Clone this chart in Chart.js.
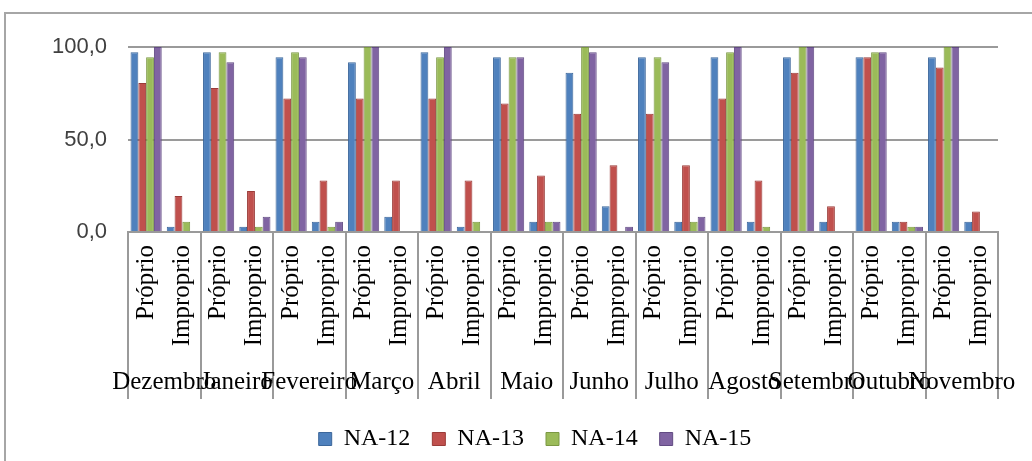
<!DOCTYPE html>
<html>
<head>
<meta charset="utf-8">
<script src="https://cdn.jsdelivr.net/npm/chart.js@4.4.0/dist/chart.umd.min.js"></script>
<style>
  html, body { margin: 0; padding: 0; background: #fff; }
  #wrap { position: relative; width: 1032px; height: 461px; overflow: hidden; }
  #frame { position: absolute; left: 4px; top: 12px; width: 1100px; height: 500px;
           border-top: 2px solid #a6a6a6; border-left: 2px solid #a6a6a6; }
  canvas { position: absolute; left: 0; top: 0; }
</style>
</head>
<body>
<div id="wrap">
  <div id="frame"></div>
  <canvas id="grafico" width="1032" height="461"></canvas>
</div>
<script>
'use strict'

var meses = ['Dezembro', 'Janeiro', 'Fevereiro', 'Março', 'Abril', 'Maio',
             'Junho', 'Julho', 'Agosto', 'Setembro', 'Outubro', 'Novembro'];
var condicoes = ['Próprio', 'Improprio'];

// pares Próprio / Improprio, mes a mes
var na12 = [97.2, 2.8, 97.2, 2.8, 94.4, 5.6, 91.7, 8.3, 97.2, 2.8, 94.4, 5.6,
            86.1, 13.9, 94.4, 5.6, 94.4, 5.6, 94.4, 5.6, 94.4, 5.6, 94.4, 5.6];
var na13 = [80.6, 19.4, 77.8, 22.2, 72.2, 27.8, 72.2, 27.8, 72.2, 27.8, 69.4, 30.6,
            63.9, 36.1, 63.9, 36.1, 72.2, 27.8, 86.1, 13.9, 94.4, 5.6, 88.9, 11.1];
var na14 = [94.4, 5.6, 97.2, 2.8, 97.2, 2.8, 100, 0, 94.4, 5.6, 94.4, 5.6,
            100, 0, 94.4, 5.6, 97.2, 2.8, 100, 0, 97.2, 2.8, 100, 0];
var na15 = [100, 0, 91.7, 8.3, 94.4, 5.6, 100, 0, 100, 0, 94.4, 5.6,
            97.2, 2.8, 91.7, 8.3, 100, 0, 100, 0, 97.2, 2.8, 100, 0];

var series = ['NA-12', 'NA-13', 'NA-14', 'NA-15'];
var rotulosY = ['0,0', '50,0', '100,0'];

var cores = ['#4f81bd', '#c0504d', '#9bbb59', '#8064a2'];
var bordas = ['#3c679b', '#9a3b38', '#7b9843', '#624b83'];

var rotulos = [];
meses.forEach(function () {
    condicoes.forEach(function (c) { rotulos.push(c); });
});

var valores = [na12, na13, na14, na15];

var serif = "'Liberation Serif', 'Times New Roman', serif";
var sans = "'Liberation Sans', Arial, sans-serif";

new Chart(document.getElementById('grafico').getContext('2d'), {
    type: 'bar',
    data: {
        labels: rotulos,
        datasets: series.map(function (nome, i) {
            return {
                label: nome,
                data: valores[i],
                backgroundColor: cores[i],
                borderColor: bordas[i],
                borderWidth: 1,
                categoryPercentage: 0.86,
                barPercentage: 1.0
            };
        })
    },
    options: {
        responsive: false,
        animation: false,
        devicePixelRatio: 1,
        layout: { padding: { left: 72, right: 34, top: 47, bottom: 0 } },
        plugins: {
            tooltip: { enabled: false },
            legend: {
                position: 'bottom',
                maxHeight: 60,
                labels: {
                    font: { family: serif, size: 24 },
                    color: '#000',
                    boxWidth: 13,
                    boxHeight: 13,
                    padding: 22
                }
            }
        },
        scales: {
            x: {
                type: 'category',
                position: 'bottom',
                afterFit: function (s) { s.height = 120; },
                border: { display: true, color: '#9a9a9a', width: 2 },
                grid: {
                    offset: true,
                    drawOnChartArea: false,
                    drawTicks: true,
                    tickLength: 167,
                    lineWidth: 2,
                    color: function (ctx) {
                        return (ctx.index === undefined || ctx.index % 2 === 0) ? '#9a9a9a' : 'rgba(0,0,0,0)';
                    }
                },
                ticks: {
                    autoSkip: false,
                    minRotation: 90,
                    maxRotation: 90,
                    padding: -154,
                    color: '#000',
                    font: { family: serif, size: 25 }
                }
            },
            x2: {
                type: 'category',
                position: 'bottom',
                labels: meses,
                offset: true,
                afterFit: function (s) { s.height = 53; },
                border: { display: false },
                grid: { display: false },
                ticks: {
                    autoSkip: false,
                    maxRotation: 0,
                    minRotation: 0,
                    padding: 7,
                    color: '#000',
                    font: { family: serif, size: 25 }
                }
            },
            y: {
                min: 0,
                max: 100,
                afterFit: function (s) { s.width = 56; },
                border: { display: false },
                grid: {
                    drawTicks: false,
                    color: '#9a9a9a',
                    lineWidth: 2
                },
                ticks: {
                    stepSize: 50,
                    mirror: true,
                    crossAlign: 'far',
                    padding: -76,
                    color: '#404040',
                    font: { family: sans, size: 22 },
                    callback: function (v) { return rotulosY[v / 50]; }
                }
            }
        }
    }
});
</script>
</body>
</html>
